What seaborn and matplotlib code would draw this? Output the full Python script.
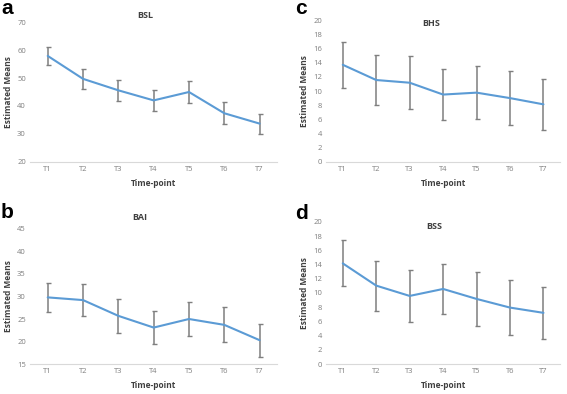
import numpy as np
import pandas as pd
import seaborn as sns
import matplotlib.pyplot as plt

# data
timepoints = ["T1", "T2", "T3", "T4", "T5", "T6", "T7"]

bsl_mean = [57.9, 49.7, 45.6, 42.0, 45.0, 37.4, 33.7]
bsl_err = [3.2, 3.6, 3.7, 3.8, 3.9, 3.9, 3.6]

bai_mean = [29.8, 29.2, 25.7, 23.1, 25.0, 23.7, 20.3]
bai_err = [3.3, 3.55, 3.7, 3.7, 3.85, 3.9, 3.65]

bhs_mean = [13.7, 11.55, 11.17, 9.5, 9.77, 9.0, 8.12]
bhs_err = [3.25, 3.5, 3.7, 3.6, 3.75, 3.85, 3.6]

bss_mean = [14.16, 11.03, 9.58, 10.56, 9.16, 7.94, 7.2]
bss_err = [3.25, 3.5, 3.67, 3.55, 3.77, 3.83, 3.63]

sns.set_style('white')
plt.rcParams['font.family'] = ['Open Sans', 'DejaVu Sans']

W, H = 567, 394
fig = plt.figure(figsize=(W / 100, H / 100), dpi=100)

# letter, title, means, errors, ylim, step, axes rect, title pos (px), letter pos (px)
panels = [
    ("a", "BSL", bsl_mean, bsl_err, (20, 70), 10, [0.053, 0.589, 0.436, 0.355], (145, 15), (1, 8)),
    ("c", "BHS", bhs_mean, bhs_err, (0, 20), 2, [0.575, 0.589, 0.413, 0.360], (431, 23), (295, 9)),
    ("b", "BAI", bai_mean, bai_err, (15, 45), 5, [0.053, 0.076, 0.436, 0.343], (140, 217), (1, 213)),
    ("d", "BSS", bss_mean, bss_err, (0, 20), 2, [0.575, 0.076, 0.413, 0.361], (434, 226), (295, 214)),
]

line_col = "#5B9BD5"
err_col = "#7f7f7f"

for letter, name, mean, err, ylim, step, rect, tpos, lpos in panels:
    ax = fig.add_axes(rect)
    df = pd.DataFrame({"Time-point": timepoints, "mean": mean, "err": err})
    sns.lineplot(data=df, x="Time-point", y="mean", ax=ax, color=line_col,
                 linewidth=1.5, zorder=3, sort=False)
    ax.errorbar(np.arange(len(timepoints)), df["mean"], yerr=df["err"],
                fmt="none", ecolor=err_col, elinewidth=1.1, capsize=1.8,
                capthick=1.0, zorder=2)
    ax.set_xlim(-0.5, len(timepoints) - 0.5)
    ax.set_ylim(*ylim)
    ax.set_yticks(np.arange(ylim[0], ylim[1] + 0.1, step))
    for s in ["top", "right", "left"]:
        ax.spines[s].set_visible(False)
    ax.spines["bottom"].set_color("#d9d9d9")
    ax.spines["bottom"].set_linewidth(0.8)
    ax.tick_params(axis="both", labelsize=5.5, colors="#7f7f7f", length=0, pad=3)
    ax.set_xlabel("Time-point", fontsize=6, fontweight="bold", color="#404040", labelpad=4)
    ax.set_ylabel("Estimated Means", fontsize=6, fontweight="bold", color="#404040", labelpad=3)
    fig.text(tpos[0] / W, 1 - tpos[1] / H, name, fontsize=6.5, fontweight="bold",
             color="#404040", ha="center", va="center")
    fig.text(lpos[0] / W, 1 - lpos[1] / H, letter, fontsize=15, fontweight="bold",
             family=["Liberation Sans", "DejaVu Sans"], va="center", ha="left", color="black")

fig.savefig("out.png", dpi=100)
